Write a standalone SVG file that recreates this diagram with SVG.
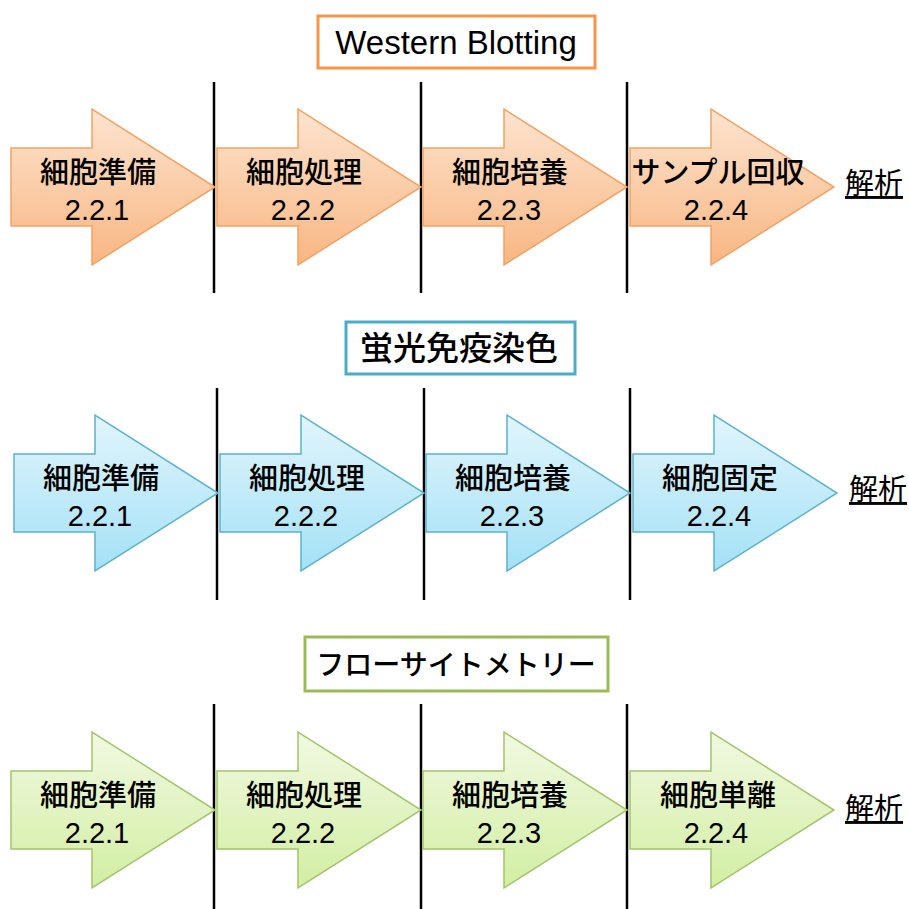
<svg xmlns="http://www.w3.org/2000/svg" width="909" height="909" viewBox="0 0 909 909">
<defs>
<linearGradient id="gO" x1="0" y1="0" x2="0" y2="1"><stop offset="0" stop-color="#fde4d0"/><stop offset="1" stop-color="#f8b681"/></linearGradient>
<linearGradient id="gB" x1="0" y1="0" x2="0" y2="1"><stop offset="0" stop-color="#e2f5fc"/><stop offset="1" stop-color="#a3e1f6"/></linearGradient>
<linearGradient id="gG" x1="0" y1="0" x2="0" y2="1"><stop offset="0" stop-color="#f1f9e2"/><stop offset="1" stop-color="#d2eea2"/></linearGradient>
<path id="arr" d="M0,-39 L81,-39 L81,-78 L204,0 L81,78 L81,39 L0,39 Z"/>
</defs>
<style>
.o{fill:url(#gO);stroke:#f4a261;stroke-width:1.5}
.b{fill:url(#gB);stroke:#5bb3cc;stroke-width:1.5}
.g{fill:url(#gG);stroke:#a3c56a;stroke-width:1.5}
.t{font-family:"Hiragino Sans","Noto Sans CJK JP",sans-serif;font-size:29px;font-weight:500;fill:#000;text-anchor:middle}
.n{font-family:"Liberation Sans",Arial,sans-serif;font-size:29px;fill:#000;text-anchor:middle}
.k{font-family:"Noto Sans CJK JP",sans-serif;font-size:29px;fill:#000;text-decoration:underline}
.box{fill:#fff;stroke-width:3}
.sep line{stroke:#000;stroke-width:2.5}
</style>

<g id="title1"><rect class="box" x="318" y="16" width="277" height="52" stroke="#f79646"/><text x="456" y="54" font-family="Liberation Sans,Arial,sans-serif" font-size="33" text-anchor="middle">Western Blotting</text></g>
<g id="title2"><rect class="box" x="346" y="322" width="229" height="52" stroke="#4bacc6"/><text x="459" y="360" font-family="Noto Sans CJK JP,sans-serif" font-size="33" font-weight="500" text-anchor="middle">蛍光免疫染色</text></g>
<g id="title3"><rect class="box" x="305" y="637" width="303" height="54" stroke="#9bbb59"/><text x="456" y="675" font-family="Noto Sans CJK JP,sans-serif" font-size="28" font-weight="500" text-anchor="middle">フローサイトメトリー</text></g>

<g id="connectors" class="sep">
<line x1="214" y1="82" x2="214" y2="293"/><line x1="421" y1="82" x2="421" y2="293"/><line x1="627" y1="82" x2="627" y2="293"/>
<line x1="217" y1="388" x2="217" y2="600"/><line x1="424" y1="388" x2="424" y2="600"/><line x1="630" y1="388" x2="630" y2="600"/>
<line x1="214" y1="704" x2="214" y2="909"/><line x1="421" y1="704" x2="421" y2="909"/><line x1="627" y1="704" x2="627" y2="909"/>
</g>

<g id="r1a1"><use href="#arr" class="o" x="11" y="187"/><text class="t" x="98" y="183">細胞準備</text><text class="n" x="97" y="220">2.2.1</text></g>
<g id="r1a2"><use href="#arr" class="o" x="217" y="187"/><text class="t" x="304" y="183">細胞処理</text><text class="n" x="303" y="220">2.2.2</text></g>
<g id="r1a3"><use href="#arr" class="o" x="423" y="187"/><text class="t" x="510" y="183">細胞培養</text><text class="n" x="509" y="220">2.2.3</text></g>
<g id="r1a4"><use href="#arr" class="o" x="630" y="187"/><text class="t" x="718" y="183">サンプル回収</text><text class="n" x="716" y="220">2.2.4</text></g>
<g id="r1end"><text class="k" x="845" y="194">解析</text></g>

<g id="r2a1"><use href="#arr" class="b" x="14" y="493"/><text class="t" x="101" y="489">細胞準備</text><text class="n" x="100" y="526">2.2.1</text></g>
<g id="r2a2"><use href="#arr" class="b" x="220" y="493"/><text class="t" x="307" y="489">細胞処理</text><text class="n" x="306" y="526">2.2.2</text></g>
<g id="r2a3"><use href="#arr" class="b" x="426" y="493"/><text class="t" x="513" y="489">細胞培養</text><text class="n" x="512" y="526">2.2.3</text></g>
<g id="r2a4"><use href="#arr" class="b" x="633" y="493"/><text class="t" x="720" y="489">細胞固定</text><text class="n" x="719" y="526">2.2.4</text></g>
<g id="r2end"><text class="k" x="849" y="500">解析</text></g>

<g id="r3a1"><use href="#arr" class="g" x="11" y="810"/><text class="t" x="98" y="806">細胞準備</text><text class="n" x="97" y="843">2.2.1</text></g>
<g id="r3a2"><use href="#arr" class="g" x="217" y="810"/><text class="t" x="304" y="806">細胞処理</text><text class="n" x="303" y="843">2.2.2</text></g>
<g id="r3a3"><use href="#arr" class="g" x="423" y="810"/><text class="t" x="510" y="806">細胞培養</text><text class="n" x="509" y="843">2.2.3</text></g>
<g id="r3a4"><use href="#arr" class="g" x="630" y="810"/><text class="t" x="718" y="806">細胞単離</text><text class="n" x="716" y="843">2.2.4</text></g>
<g id="r3end"><text class="k" x="845" y="819">解析</text></g>
</svg>
